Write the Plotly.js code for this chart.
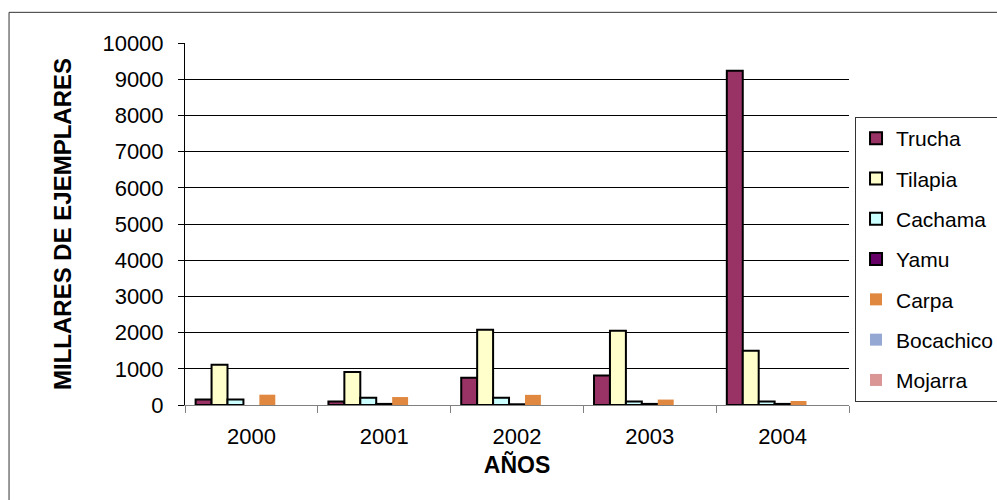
<!DOCTYPE html>
<html>
<head>
<meta charset="utf-8">
<script src="https://cdn.plot.ly/plotly-3.0.1.min.js"></script>
<style>html,body{margin:0;padding:0;background:#fff;}#chart{width:997px;height:500px;}</style>
</head>
<body>
<div id="chart"></div>
<script>
const years = ["2000", "2001", "2002", "2003", "2004"];
const seriesNames = ["Trucha", "Tilapia", "Cachama", "Yamu", "Carpa", "Bocachico", "Mojarra"];
const trucha = [150, 100, 750, 815, 9230];
const tilapia = [1110, 910, 2080, 2050, 1500];
const cachama = [150, 200, 200, 100, 100];
const yamu = [null, 30, 20, 30, 30];
const carpa = [285, 220, 280, 150, 110];
const bocachico = [0, 0, 0, 0, 0];
const mojarra = [0, 0, 0, 0, 0];
const yTicks = [0, 1000, 2000, 3000, 4000, 5000, 6000, 7000, 8000, 9000, 10000];

const allValues = [trucha, tilapia, cachama, yamu, carpa, bocachico, mojarra];
const fills = ["#993366", "#FFFFCC", "#CCFFFF", "#660066", "#E0883F", "#95A8D3", "#D99694"];
const outlined = [true, true, true, true, false, false, false];

const traces = allValues.map((vals, i) => ({
  type: "bar",
  name: seriesNames[i],
  x: years,
  y: vals,
  legendgroup: "g" + i,
  marker: {
    color: fills[i],
    line: {color: "#000", width: outlined[i] ? 2 : 0}
  },
  hoverinfo: "none"
}));

const layout = {
  width: 997,
  height: 500,
  margin: {l: 185, r: 148, t: 43, b: 95, pad: 0, autoexpand: false},
  paper_bgcolor: "#fff",
  plot_bgcolor: "#fff",
  barmode: "group",
  bargap: 0.16,
  bargroupgap: 0,
  font: {family: "Liberation Sans, Arial, sans-serif", color: "#000"},
  xaxis: {
    type: "category",
    tickson: "boundaries",
    ticks: "outside",
    ticklen: 7,
    tickcolor: "#808080",
    showline: true,
    linecolor: "#808080",
    linewidth: 1,
    showgrid: false,
    tickfont: {size: 22},
    ticklabelstandoff: 12,
    title: {text: "<b>AÑOS</b>", font: {size: 23}, standoff: 8}
  },
  yaxis: {
    range: [0, 10000],
    tickvals: yTicks,
    ticktext: yTicks.map(String),
    ticks: "outside",
    ticklen: 6,
    tickcolor: "#000",
    showline: true,
    linecolor: "#000",
    linewidth: 1,
    showgrid: true,
    gridcolor: "#000",
    gridwidth: 1,
    zeroline: false,
    tickfont: {size: 22},
    ticklabelstandoff: 10,
    title: {text: "<b>MILLARES DE EJEMPLARES</b>", font: {size: 24}, standoff: 24}
  },
  legend: {
    xref: "container",
    yref: "container",
    x: 0.8576,
    xanchor: "left",
    y: 0.766,
    yanchor: "top",
    maxheight: 400,
    bordercolor: "#333",
    borderwidth: 1,
    bgcolor: "#fff",
    font: {size: 21},
    tracegroupgap: 10,
    itemclick: false
  },
  shapes: [{
    type: "rect", xref: "paper", yref: "paper",
    x0: -0.265, x1: 1.25, y0: -0.3, y1: 1.0847,
    line: {color: "#333", width: 1}, fillcolor: "rgba(0,0,0,0)", layer: "below"
  }],
  showlegend: true
};

Plotly.newPlot("chart", traces, layout, {staticPlot: true, displayModeBar: false});
</script>
</body>
</html>
